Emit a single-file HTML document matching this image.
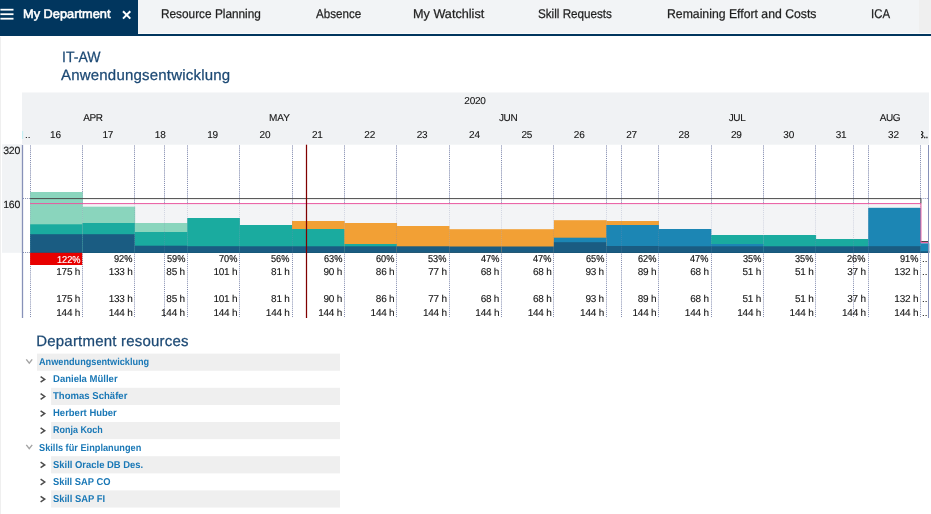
<!DOCTYPE html>
<html><head><meta charset="utf-8"><title>My Department</title>
<style>
html,body{margin:0;padding:0;background:#fff;}
body{width:931px;height:514px;position:relative;overflow:hidden;font-family:"Liberation Sans",sans-serif;}
.t{position:absolute;white-space:nowrap;transform-origin:0 0;text-rendering:geometricPrecision;-webkit-text-stroke:0.25px;}
.r{position:absolute;}
svg.g{position:absolute;left:0;top:0;}
</style></head><body>
<div class="r" style="left:0.00px;top:0.00px;width:931.00px;height:34.00px;background:#f2f4f6;"></div>
<div class="r" style="left:919.00px;top:0.00px;width:12.00px;height:34.00px;background:#efefef;"></div>
<div class="r" style="left:138.00px;top:33.00px;width:793.00px;height:1.00px;background:#f9fafb;"></div>
<div class="r" style="left:0.00px;top:33.70px;width:931.00px;height:2.20px;background:#01365e;"></div>
<div class="r" style="left:0.00px;top:0.00px;width:138.00px;height:36.00px;background:#01365e;"></div>
<svg class="g" width="931" height="514" viewBox="0 0 931 514">
<line x1="0.40" y1="9.70" x2="13.50" y2="9.70" stroke="#fff" stroke-width="1.8" />
<line x1="0.40" y1="14.20" x2="13.50" y2="14.20" stroke="#fff" stroke-width="1.8" />
<line x1="0.40" y1="18.70" x2="13.50" y2="18.70" stroke="#fff" stroke-width="1.8" />
<path d="M123 11.3 L130.3 18.6 M130.3 11.3 L123 18.6" stroke="#fff" stroke-width="2" fill="none"/>
<rect x="22.00" y="92.50" width="907.00" height="52.20" fill="#f0f2f4" />
<rect x="2.00" y="144.30" width="20.00" height="108.50" fill="#f1f3f5" />
<line x1="30.50" y1="145.50" x2="30.50" y2="318.00" stroke="#808aae" stroke-width="1" stroke-dasharray="1 1.08"/>
<line x1="82.50" y1="145.50" x2="82.50" y2="318.00" stroke="#808aae" stroke-width="1" stroke-dasharray="1 1.08"/>
<line x1="134.50" y1="145.50" x2="134.50" y2="318.00" stroke="#808aae" stroke-width="1" stroke-dasharray="1 1.08"/>
<line x1="187.50" y1="145.50" x2="187.50" y2="318.00" stroke="#808aae" stroke-width="1" stroke-dasharray="1 1.08"/>
<line x1="239.50" y1="145.50" x2="239.50" y2="318.00" stroke="#808aae" stroke-width="1" stroke-dasharray="1 1.08"/>
<line x1="292.50" y1="145.50" x2="292.50" y2="318.00" stroke="#808aae" stroke-width="1" stroke-dasharray="1 1.08"/>
<line x1="344.50" y1="145.50" x2="344.50" y2="318.00" stroke="#808aae" stroke-width="1" stroke-dasharray="1 1.08"/>
<line x1="396.50" y1="145.50" x2="396.50" y2="318.00" stroke="#808aae" stroke-width="1" stroke-dasharray="1 1.08"/>
<line x1="449.50" y1="145.50" x2="449.50" y2="318.00" stroke="#808aae" stroke-width="1" stroke-dasharray="1 1.08"/>
<line x1="501.50" y1="145.50" x2="501.50" y2="318.00" stroke="#808aae" stroke-width="1" stroke-dasharray="1 1.08"/>
<line x1="553.50" y1="145.50" x2="553.50" y2="318.00" stroke="#808aae" stroke-width="1" stroke-dasharray="1 1.08"/>
<line x1="606.50" y1="145.50" x2="606.50" y2="318.00" stroke="#808aae" stroke-width="1" stroke-dasharray="1 1.08"/>
<line x1="658.50" y1="145.50" x2="658.50" y2="318.00" stroke="#808aae" stroke-width="1" stroke-dasharray="1 1.08"/>
<line x1="711.50" y1="145.50" x2="711.50" y2="318.00" stroke="#808aae" stroke-width="1" stroke-dasharray="1 1.08"/>
<line x1="763.50" y1="145.50" x2="763.50" y2="318.00" stroke="#808aae" stroke-width="1" stroke-dasharray="1 1.08"/>
<line x1="815.50" y1="145.50" x2="815.50" y2="318.00" stroke="#808aae" stroke-width="1" stroke-dasharray="1 1.08"/>
<line x1="868.50" y1="145.50" x2="868.50" y2="318.00" stroke="#808aae" stroke-width="1" stroke-dasharray="1 1.08"/>
<line x1="920.50" y1="145.50" x2="920.50" y2="318.00" stroke="#808aae" stroke-width="1" stroke-dasharray="1 1.08"/>
<line x1="164.50" y1="145.50" x2="164.50" y2="318.00" stroke="#808aae" stroke-width="1" stroke-dasharray="1 1.08"/>
<line x1="621.50" y1="145.50" x2="621.50" y2="318.00" stroke="#808aae" stroke-width="1" stroke-dasharray="1 1.08"/>
<line x1="853.50" y1="145.50" x2="853.50" y2="318.00" stroke="#808aae" stroke-width="1" stroke-dasharray="1 1.08"/>
<rect x="30.10" y="204.00" width="890.46" height="49.00" fill="#f3f4f6" />
<rect x="920.56" y="243.00" width="8.44" height="10.00" fill="#f3f4f6" />
<rect x="30.10" y="192.00" width="52.68" height="60.80" fill="#8ad5bd" />
<rect x="30.10" y="224.30" width="52.68" height="28.50" fill="#1aab9f" />
<rect x="30.10" y="234.20" width="52.68" height="18.60" fill="#1a5c82" />
<rect x="82.48" y="206.70" width="52.68" height="46.10" fill="#8ad5bd" />
<rect x="82.48" y="223.00" width="52.68" height="29.80" fill="#1aab9f" />
<rect x="82.48" y="234.20" width="52.68" height="18.60" fill="#1a5c82" />
<rect x="134.86" y="223.00" width="52.68" height="29.80" fill="#8ad5bd" />
<rect x="134.86" y="232.00" width="52.68" height="20.80" fill="#1aab9f" />
<rect x="134.86" y="245.70" width="52.68" height="7.10" fill="#1a5c82" />
<rect x="187.24" y="218.00" width="52.68" height="34.80" fill="#1aab9f" />
<rect x="187.24" y="246.20" width="52.68" height="6.60" fill="#1a5c82" />
<rect x="239.62" y="225.00" width="52.68" height="27.80" fill="#1aab9f" />
<rect x="239.62" y="246.30" width="52.68" height="6.50" fill="#1a5c82" />
<rect x="292.00" y="221.00" width="52.68" height="31.80" fill="#f2a035" />
<rect x="292.00" y="229.00" width="52.68" height="23.80" fill="#1aab9f" />
<rect x="292.00" y="246.30" width="52.68" height="6.50" fill="#1a5c82" />
<rect x="344.38" y="223.00" width="52.68" height="29.80" fill="#f2a035" />
<rect x="344.38" y="244.00" width="52.68" height="8.80" fill="#1aab9f" />
<rect x="344.38" y="246.30" width="52.68" height="6.50" fill="#1a5c82" />
<rect x="396.76" y="226.00" width="52.68" height="26.80" fill="#f2a035" />
<rect x="396.76" y="246.30" width="52.68" height="6.50" fill="#1a5c82" />
<rect x="449.14" y="229.20" width="52.68" height="23.60" fill="#f2a035" />
<rect x="449.14" y="246.50" width="52.68" height="6.30" fill="#1a5c82" />
<rect x="501.52" y="229.20" width="52.68" height="23.60" fill="#f2a035" />
<rect x="501.52" y="246.50" width="52.68" height="6.30" fill="#1a5c82" />
<rect x="553.90" y="220.20" width="52.68" height="32.60" fill="#f2a035" />
<rect x="553.90" y="237.70" width="52.68" height="15.10" fill="#1c86b4" />
<rect x="553.90" y="242.20" width="52.68" height="10.60" fill="#1a5c82" />
<rect x="606.28" y="221.00" width="52.68" height="31.80" fill="#f2a035" />
<rect x="606.28" y="225.00" width="52.68" height="27.80" fill="#1c86b4" />
<rect x="606.28" y="246.00" width="52.68" height="6.80" fill="#1a5c82" />
<rect x="658.66" y="229.00" width="52.68" height="23.80" fill="#1c86b4" />
<rect x="658.66" y="246.30" width="52.68" height="6.50" fill="#1a5c82" />
<rect x="711.04" y="235.00" width="52.68" height="17.80" fill="#1aab9f" />
<rect x="711.04" y="244.00" width="52.68" height="8.80" fill="#1c86b4" />
<rect x="711.04" y="246.30" width="52.68" height="6.50" fill="#1a5c82" />
<rect x="763.42" y="235.00" width="52.68" height="17.80" fill="#1aab9f" />
<rect x="763.42" y="246.30" width="52.68" height="6.50" fill="#1a5c82" />
<rect x="815.80" y="239.00" width="52.68" height="13.80" fill="#1aab9f" />
<rect x="815.80" y="246.30" width="52.68" height="6.50" fill="#1a5c82" />
<rect x="868.18" y="207.80" width="52.68" height="45.00" fill="#1c86b4" />
<rect x="868.18" y="246.20" width="52.68" height="6.60" fill="#1a5c82" />
<rect x="920.56" y="243.30" width="8.74" height="9.50" fill="#1c86b4" />
<rect x="920.56" y="251.20" width="8.74" height="1.60" fill="#1a5c82" />
<rect x="30.10" y="252.20" width="898.90" height="0.60" fill="#124b70" />
<rect x="30.10" y="252.80" width="52.08" height="12.20" fill="#e80000" />
<line x1="30.50" y1="145.50" x2="30.50" y2="252.80" stroke="#808aae" stroke-width="1" stroke-dasharray="1 1.08" opacity="0.3"/>
<line x1="82.50" y1="145.50" x2="82.50" y2="252.80" stroke="#808aae" stroke-width="1" stroke-dasharray="1 1.08" opacity="0.3"/>
<line x1="134.50" y1="145.50" x2="134.50" y2="252.80" stroke="#808aae" stroke-width="1" stroke-dasharray="1 1.08" opacity="0.3"/>
<line x1="187.50" y1="145.50" x2="187.50" y2="252.80" stroke="#808aae" stroke-width="1" stroke-dasharray="1 1.08" opacity="0.3"/>
<line x1="239.50" y1="145.50" x2="239.50" y2="252.80" stroke="#808aae" stroke-width="1" stroke-dasharray="1 1.08" opacity="0.3"/>
<line x1="292.50" y1="145.50" x2="292.50" y2="252.80" stroke="#808aae" stroke-width="1" stroke-dasharray="1 1.08" opacity="0.3"/>
<line x1="344.50" y1="145.50" x2="344.50" y2="252.80" stroke="#808aae" stroke-width="1" stroke-dasharray="1 1.08" opacity="0.3"/>
<line x1="396.50" y1="145.50" x2="396.50" y2="252.80" stroke="#808aae" stroke-width="1" stroke-dasharray="1 1.08" opacity="0.3"/>
<line x1="449.50" y1="145.50" x2="449.50" y2="252.80" stroke="#808aae" stroke-width="1" stroke-dasharray="1 1.08" opacity="0.3"/>
<line x1="501.50" y1="145.50" x2="501.50" y2="252.80" stroke="#808aae" stroke-width="1" stroke-dasharray="1 1.08" opacity="0.3"/>
<line x1="553.50" y1="145.50" x2="553.50" y2="252.80" stroke="#808aae" stroke-width="1" stroke-dasharray="1 1.08" opacity="0.3"/>
<line x1="606.50" y1="145.50" x2="606.50" y2="252.80" stroke="#808aae" stroke-width="1" stroke-dasharray="1 1.08" opacity="0.3"/>
<line x1="658.50" y1="145.50" x2="658.50" y2="252.80" stroke="#808aae" stroke-width="1" stroke-dasharray="1 1.08" opacity="0.3"/>
<line x1="711.50" y1="145.50" x2="711.50" y2="252.80" stroke="#808aae" stroke-width="1" stroke-dasharray="1 1.08" opacity="0.3"/>
<line x1="763.50" y1="145.50" x2="763.50" y2="252.80" stroke="#808aae" stroke-width="1" stroke-dasharray="1 1.08" opacity="0.3"/>
<line x1="815.50" y1="145.50" x2="815.50" y2="252.80" stroke="#808aae" stroke-width="1" stroke-dasharray="1 1.08" opacity="0.3"/>
<line x1="868.50" y1="145.50" x2="868.50" y2="252.80" stroke="#808aae" stroke-width="1" stroke-dasharray="1 1.08" opacity="0.3"/>
<line x1="920.50" y1="145.50" x2="920.50" y2="252.80" stroke="#808aae" stroke-width="1" stroke-dasharray="1 1.08" opacity="0.3"/>
<line x1="164.50" y1="145.50" x2="164.50" y2="252.80" stroke="#808aae" stroke-width="1" stroke-dasharray="1 1.08" opacity="0.3"/>
<line x1="621.50" y1="145.50" x2="621.50" y2="252.80" stroke="#808aae" stroke-width="1" stroke-dasharray="1 1.08" opacity="0.3"/>
<line x1="853.50" y1="145.50" x2="853.50" y2="252.80" stroke="#808aae" stroke-width="1" stroke-dasharray="1 1.08" opacity="0.3"/>
<line x1="23.00" y1="198.50" x2="30.10" y2="198.50" stroke="#808aae" stroke-width="1" stroke-dasharray="1 1.08"/>
<line x1="23.00" y1="252.50" x2="30.10" y2="252.50" stroke="#808aae" stroke-width="1" stroke-dasharray="1 1.08"/>
<line x1="920.56" y1="198.50" x2="929.00" y2="198.50" stroke="#808aae" stroke-width="1" stroke-dasharray="1 1.08"/>
<path d="M30.1 198.6 H920.96 V203.6 M920.46 241.5 H929" stroke="#4a4a4a" stroke-width="1" fill="none"/>
<path d="M30.1 203.6 H920.96 V242.6 H929" stroke="#e9579f" stroke-width="1" fill="none"/>
<line x1="22.50" y1="145.00" x2="22.50" y2="318.00" stroke="#8791b8" stroke-width="1.3" />
<line x1="928.50" y1="145.00" x2="928.50" y2="318.00" stroke="#8791b8" stroke-width="1" />
<line x1="306.50" y1="144.70" x2="306.50" y2="318.00" stroke="#800000" stroke-width="1.25" />
<rect x="22.00" y="131.00" width="1.20" height="8.00" fill="#c5eef2" />
<rect x="37.00" y="353.60" width="303.00" height="17.15" fill="#efefef" />
<path d="M26.3 359.40 L29.25 363.20 L32.2 359.40" stroke="#a4a4a4" stroke-width="1.4" fill="none"/>
<path d="M40.6 376.60 L44.7 379.40 L40.6 382.20" stroke="#4c4c4c" stroke-width="1.5" fill="none"/>
<rect x="51.10" y="387.80" width="288.90" height="17.15" fill="#efefef" />
<path d="M40.6 393.70 L44.7 396.50 L40.6 399.30" stroke="#4c4c4c" stroke-width="1.5" fill="none"/>
<path d="M40.6 410.80 L44.7 413.60 L40.6 416.40" stroke="#4c4c4c" stroke-width="1.5" fill="none"/>
<rect x="51.10" y="422.00" width="288.90" height="17.15" fill="#efefef" />
<path d="M40.6 427.90 L44.7 430.70 L40.6 433.50" stroke="#4c4c4c" stroke-width="1.5" fill="none"/>
<path d="M26.3 444.90 L29.25 448.70 L32.2 444.90" stroke="#a4a4a4" stroke-width="1.4" fill="none"/>
<rect x="51.10" y="456.20" width="288.90" height="17.15" fill="#efefef" />
<path d="M40.6 462.10 L44.7 464.90 L40.6 467.70" stroke="#4c4c4c" stroke-width="1.5" fill="none"/>
<path d="M40.6 479.20 L44.7 482.00 L40.6 484.80" stroke="#4c4c4c" stroke-width="1.5" fill="none"/>
<rect x="51.10" y="490.40" width="288.90" height="17.15" fill="#efefef" />
<path d="M40.6 496.30 L44.7 499.10 L40.6 501.90" stroke="#4c4c4c" stroke-width="1.5" fill="none"/>
<rect x="0.00" y="37.00" width="1.00" height="477.00" fill="#efefef" />
</svg>
<div class="t" style="left:22.50px;top:7px;font-size:12.5px;line-height:15px;color:#fff;-webkit-text-stroke:0.55px;transform:scaleX(1.0240);">My Department</div>
<div class="t" style="left:160.50px;top:7px;font-size:12.7px;line-height:15px;color:#1f1f1f;transform:scaleX(0.9318);">Resource Planning</div>
<div class="t" style="left:316.20px;top:7px;font-size:12.7px;line-height:15px;color:#1f1f1f;transform:scaleX(0.9145);">Absence</div>
<div class="t" style="left:412.80px;top:7px;font-size:12.7px;line-height:15px;color:#1f1f1f;transform:scaleX(0.9972);">My Watchlist</div>
<div class="t" style="left:537.60px;top:7px;font-size:12.7px;line-height:15px;color:#1f1f1f;transform:scaleX(0.9196);">Skill Requests</div>
<div class="t" style="left:666.60px;top:7px;font-size:12.7px;line-height:15px;color:#1f1f1f;transform:scaleX(0.9647);">Remaining Effort and Costs</div>
<div class="t" style="left:871.20px;top:7px;font-size:12.7px;line-height:15px;color:#1f1f1f;transform:scaleX(0.8974);">ICA</div>
<div class="t" style="left:61.50px;top:49px;font-size:15px;line-height:18px;color:#1c4974;transform:scaleX(0.9366);">IT-AW</div>
<div class="t" style="left:61.00px;top:67px;font-size:15px;line-height:18px;color:#1c4974;letter-spacing:0.199px;">Anwendungsentwicklung</div>
<div class="t" style="left:464.32px;top:96px;font-size:10px;line-height:12px;color:#141414;-webkit-text-stroke:0.1px;letter-spacing:-0.222px;">2020</div>
<div class="t" style="left:83.14px;top:113px;font-size:10px;line-height:12px;color:#141414;-webkit-text-stroke:0.1px;letter-spacing:-0.411px;">APR</div>
<div class="t" style="left:269.04px;top:113px;font-size:10px;line-height:12px;color:#141414;-webkit-text-stroke:0.1px;">MAY</div>
<div class="t" style="left:498.96px;top:113px;font-size:10px;line-height:12px;color:#141414;-webkit-text-stroke:0.1px;letter-spacing:-0.389px;">JUN</div>
<div class="t" style="left:728.64px;top:113px;font-size:10px;line-height:12px;color:#141414;-webkit-text-stroke:0.1px;letter-spacing:-0.356px;">JUL</div>
<div class="t" style="left:879.81px;top:113px;font-size:10px;line-height:12px;color:#141414;-webkit-text-stroke:0.1px;letter-spacing:-0.433px;">AUG</div>
<div class="t" style="left:50.01px;top:130px;font-size:10px;line-height:12px;color:#141414;-webkit-text-stroke:0.1px;letter-spacing:-0.167px;">16</div>
<div class="t" style="left:102.39px;top:130px;font-size:10px;line-height:12px;color:#141414;-webkit-text-stroke:0.1px;letter-spacing:-0.167px;">17</div>
<div class="t" style="left:154.77px;top:130px;font-size:10px;line-height:12px;color:#141414;-webkit-text-stroke:0.1px;letter-spacing:-0.167px;">18</div>
<div class="t" style="left:207.15px;top:130px;font-size:10px;line-height:12px;color:#141414;-webkit-text-stroke:0.1px;letter-spacing:-0.167px;">19</div>
<div class="t" style="left:259.53px;top:130px;font-size:10px;line-height:12px;color:#141414;-webkit-text-stroke:0.1px;letter-spacing:-0.167px;">20</div>
<div class="t" style="left:311.91px;top:130px;font-size:10px;line-height:12px;color:#141414;-webkit-text-stroke:0.1px;letter-spacing:-0.167px;">21</div>
<div class="t" style="left:364.29px;top:130px;font-size:10px;line-height:12px;color:#141414;-webkit-text-stroke:0.1px;letter-spacing:-0.167px;">22</div>
<div class="t" style="left:416.67px;top:130px;font-size:10px;line-height:12px;color:#141414;-webkit-text-stroke:0.1px;letter-spacing:-0.167px;">23</div>
<div class="t" style="left:469.05px;top:130px;font-size:10px;line-height:12px;color:#141414;-webkit-text-stroke:0.1px;letter-spacing:-0.167px;">24</div>
<div class="t" style="left:521.43px;top:130px;font-size:10px;line-height:12px;color:#141414;-webkit-text-stroke:0.1px;letter-spacing:-0.167px;">25</div>
<div class="t" style="left:573.81px;top:130px;font-size:10px;line-height:12px;color:#141414;-webkit-text-stroke:0.1px;letter-spacing:-0.167px;">26</div>
<div class="t" style="left:626.19px;top:130px;font-size:10px;line-height:12px;color:#141414;-webkit-text-stroke:0.1px;letter-spacing:-0.167px;">27</div>
<div class="t" style="left:678.57px;top:130px;font-size:10px;line-height:12px;color:#141414;-webkit-text-stroke:0.1px;letter-spacing:-0.167px;">28</div>
<div class="t" style="left:730.95px;top:130px;font-size:10px;line-height:12px;color:#141414;-webkit-text-stroke:0.1px;letter-spacing:-0.167px;">29</div>
<div class="t" style="left:783.33px;top:130px;font-size:10px;line-height:12px;color:#141414;-webkit-text-stroke:0.1px;letter-spacing:-0.167px;">30</div>
<div class="t" style="left:835.71px;top:130px;font-size:10px;line-height:12px;color:#141414;-webkit-text-stroke:0.1px;letter-spacing:-0.167px;">31</div>
<div class="t" style="left:888.09px;top:130px;font-size:10px;line-height:12px;color:#141414;-webkit-text-stroke:0.1px;letter-spacing:-0.167px;">32</div>
<div class="t" style="left:25.00px;top:130px;font-size:10px;line-height:12px;color:#141414;-webkit-text-stroke:0.1px;">..</div>
<div class="t" style="left:920.86px;top:128px;width:9px;height:14px;overflow:hidden"><div class="t" style="left:-2.6px;top:2px;font-size:10px;line-height:12px;letter-spacing:-0.5px;color:#141414">3..</div></div>
<div class="t" style="left:3.20px;top:145px;font-size:10.5px;line-height:13px;color:#141414;-webkit-text-stroke:0.1px;letter-spacing:-0.173px;">320</div>
<div class="t" style="left:3.20px;top:199px;font-size:10.5px;line-height:13px;color:#141414;-webkit-text-stroke:0.1px;letter-spacing:-0.173px;">160</div>
<div class="t" style="left:56.65px;top:255px;font-size:10px;line-height:12px;color:#fff;-webkit-text-stroke:0.18px;transform:scaleX(0.9200);">122%</div>
<div class="t" style="left:56.28px;top:267px;font-size:10px;line-height:12px;color:#141414;-webkit-text-stroke:0.1px;letter-spacing:-0.225px;">175 h</div>
<div class="t" style="left:56.28px;top:294px;font-size:10px;line-height:12px;color:#141414;-webkit-text-stroke:0.1px;letter-spacing:-0.225px;">175 h</div>
<div class="t" style="left:56.28px;top:308px;font-size:10px;line-height:12px;color:#141414;-webkit-text-stroke:0.1px;letter-spacing:-0.225px;">144 h</div>
<div class="t" style="left:114.15px;top:254px;font-size:10px;line-height:12px;color:#141414;-webkit-text-stroke:0.18px;transform:scaleX(0.9200);">92%</div>
<div class="t" style="left:108.66px;top:267px;font-size:10px;line-height:12px;color:#141414;-webkit-text-stroke:0.1px;letter-spacing:-0.225px;">133 h</div>
<div class="t" style="left:108.66px;top:294px;font-size:10px;line-height:12px;color:#141414;-webkit-text-stroke:0.1px;letter-spacing:-0.225px;">133 h</div>
<div class="t" style="left:108.66px;top:308px;font-size:10px;line-height:12px;color:#141414;-webkit-text-stroke:0.1px;letter-spacing:-0.225px;">144 h</div>
<div class="t" style="left:166.53px;top:254px;font-size:10px;line-height:12px;color:#141414;-webkit-text-stroke:0.18px;transform:scaleX(0.9200);">59%</div>
<div class="t" style="left:166.35px;top:267px;font-size:10px;line-height:12px;color:#141414;-webkit-text-stroke:0.1px;letter-spacing:-0.219px;">85 h</div>
<div class="t" style="left:166.35px;top:294px;font-size:10px;line-height:12px;color:#141414;-webkit-text-stroke:0.1px;letter-spacing:-0.219px;">85 h</div>
<div class="t" style="left:161.04px;top:308px;font-size:10px;line-height:12px;color:#141414;-webkit-text-stroke:0.1px;letter-spacing:-0.225px;">144 h</div>
<div class="t" style="left:218.91px;top:254px;font-size:10px;line-height:12px;color:#141414;-webkit-text-stroke:0.18px;transform:scaleX(0.9200);">70%</div>
<div class="t" style="left:213.42px;top:267px;font-size:10px;line-height:12px;color:#141414;-webkit-text-stroke:0.1px;letter-spacing:-0.225px;">101 h</div>
<div class="t" style="left:213.42px;top:294px;font-size:10px;line-height:12px;color:#141414;-webkit-text-stroke:0.1px;letter-spacing:-0.225px;">101 h</div>
<div class="t" style="left:213.42px;top:308px;font-size:10px;line-height:12px;color:#141414;-webkit-text-stroke:0.1px;letter-spacing:-0.225px;">144 h</div>
<div class="t" style="left:271.29px;top:254px;font-size:10px;line-height:12px;color:#141414;-webkit-text-stroke:0.18px;transform:scaleX(0.9200);">56%</div>
<div class="t" style="left:271.11px;top:267px;font-size:10px;line-height:12px;color:#141414;-webkit-text-stroke:0.1px;letter-spacing:-0.219px;">81 h</div>
<div class="t" style="left:271.11px;top:294px;font-size:10px;line-height:12px;color:#141414;-webkit-text-stroke:0.1px;letter-spacing:-0.219px;">81 h</div>
<div class="t" style="left:265.80px;top:308px;font-size:10px;line-height:12px;color:#141414;-webkit-text-stroke:0.1px;letter-spacing:-0.225px;">144 h</div>
<div class="t" style="left:323.67px;top:254px;font-size:10px;line-height:12px;color:#141414;-webkit-text-stroke:0.18px;transform:scaleX(0.9200);">63%</div>
<div class="t" style="left:323.49px;top:267px;font-size:10px;line-height:12px;color:#141414;-webkit-text-stroke:0.1px;letter-spacing:-0.219px;">90 h</div>
<div class="t" style="left:323.49px;top:294px;font-size:10px;line-height:12px;color:#141414;-webkit-text-stroke:0.1px;letter-spacing:-0.219px;">90 h</div>
<div class="t" style="left:318.18px;top:308px;font-size:10px;line-height:12px;color:#141414;-webkit-text-stroke:0.1px;letter-spacing:-0.225px;">144 h</div>
<div class="t" style="left:376.05px;top:254px;font-size:10px;line-height:12px;color:#141414;-webkit-text-stroke:0.18px;transform:scaleX(0.9200);">60%</div>
<div class="t" style="left:375.87px;top:267px;font-size:10px;line-height:12px;color:#141414;-webkit-text-stroke:0.1px;letter-spacing:-0.219px;">86 h</div>
<div class="t" style="left:375.87px;top:294px;font-size:10px;line-height:12px;color:#141414;-webkit-text-stroke:0.1px;letter-spacing:-0.219px;">86 h</div>
<div class="t" style="left:370.56px;top:308px;font-size:10px;line-height:12px;color:#141414;-webkit-text-stroke:0.1px;letter-spacing:-0.225px;">144 h</div>
<div class="t" style="left:428.43px;top:254px;font-size:10px;line-height:12px;color:#141414;-webkit-text-stroke:0.18px;transform:scaleX(0.9200);">53%</div>
<div class="t" style="left:428.25px;top:267px;font-size:10px;line-height:12px;color:#141414;-webkit-text-stroke:0.1px;letter-spacing:-0.219px;">77 h</div>
<div class="t" style="left:428.25px;top:294px;font-size:10px;line-height:12px;color:#141414;-webkit-text-stroke:0.1px;letter-spacing:-0.219px;">77 h</div>
<div class="t" style="left:422.94px;top:308px;font-size:10px;line-height:12px;color:#141414;-webkit-text-stroke:0.1px;letter-spacing:-0.225px;">144 h</div>
<div class="t" style="left:480.81px;top:254px;font-size:10px;line-height:12px;color:#141414;-webkit-text-stroke:0.18px;transform:scaleX(0.9200);">47%</div>
<div class="t" style="left:480.63px;top:267px;font-size:10px;line-height:12px;color:#141414;-webkit-text-stroke:0.1px;letter-spacing:-0.219px;">68 h</div>
<div class="t" style="left:480.63px;top:294px;font-size:10px;line-height:12px;color:#141414;-webkit-text-stroke:0.1px;letter-spacing:-0.219px;">68 h</div>
<div class="t" style="left:475.32px;top:308px;font-size:10px;line-height:12px;color:#141414;-webkit-text-stroke:0.1px;letter-spacing:-0.225px;">144 h</div>
<div class="t" style="left:533.19px;top:254px;font-size:10px;line-height:12px;color:#141414;-webkit-text-stroke:0.18px;transform:scaleX(0.9200);">47%</div>
<div class="t" style="left:533.01px;top:267px;font-size:10px;line-height:12px;color:#141414;-webkit-text-stroke:0.1px;letter-spacing:-0.219px;">68 h</div>
<div class="t" style="left:533.01px;top:294px;font-size:10px;line-height:12px;color:#141414;-webkit-text-stroke:0.1px;letter-spacing:-0.219px;">68 h</div>
<div class="t" style="left:527.70px;top:308px;font-size:10px;line-height:12px;color:#141414;-webkit-text-stroke:0.1px;letter-spacing:-0.225px;">144 h</div>
<div class="t" style="left:585.57px;top:254px;font-size:10px;line-height:12px;color:#141414;-webkit-text-stroke:0.18px;transform:scaleX(0.9200);">65%</div>
<div class="t" style="left:585.39px;top:267px;font-size:10px;line-height:12px;color:#141414;-webkit-text-stroke:0.1px;letter-spacing:-0.219px;">93 h</div>
<div class="t" style="left:585.39px;top:294px;font-size:10px;line-height:12px;color:#141414;-webkit-text-stroke:0.1px;letter-spacing:-0.219px;">93 h</div>
<div class="t" style="left:580.08px;top:308px;font-size:10px;line-height:12px;color:#141414;-webkit-text-stroke:0.1px;letter-spacing:-0.225px;">144 h</div>
<div class="t" style="left:637.95px;top:254px;font-size:10px;line-height:12px;color:#141414;-webkit-text-stroke:0.18px;transform:scaleX(0.9200);">62%</div>
<div class="t" style="left:637.77px;top:267px;font-size:10px;line-height:12px;color:#141414;-webkit-text-stroke:0.1px;letter-spacing:-0.219px;">89 h</div>
<div class="t" style="left:637.77px;top:294px;font-size:10px;line-height:12px;color:#141414;-webkit-text-stroke:0.1px;letter-spacing:-0.219px;">89 h</div>
<div class="t" style="left:632.46px;top:308px;font-size:10px;line-height:12px;color:#141414;-webkit-text-stroke:0.1px;letter-spacing:-0.225px;">144 h</div>
<div class="t" style="left:690.33px;top:254px;font-size:10px;line-height:12px;color:#141414;-webkit-text-stroke:0.18px;transform:scaleX(0.9200);">47%</div>
<div class="t" style="left:690.15px;top:267px;font-size:10px;line-height:12px;color:#141414;-webkit-text-stroke:0.1px;letter-spacing:-0.219px;">68 h</div>
<div class="t" style="left:690.15px;top:294px;font-size:10px;line-height:12px;color:#141414;-webkit-text-stroke:0.1px;letter-spacing:-0.219px;">68 h</div>
<div class="t" style="left:684.84px;top:308px;font-size:10px;line-height:12px;color:#141414;-webkit-text-stroke:0.1px;letter-spacing:-0.225px;">144 h</div>
<div class="t" style="left:742.71px;top:254px;font-size:10px;line-height:12px;color:#141414;-webkit-text-stroke:0.18px;transform:scaleX(0.9200);">35%</div>
<div class="t" style="left:742.53px;top:267px;font-size:10px;line-height:12px;color:#141414;-webkit-text-stroke:0.1px;letter-spacing:-0.219px;">51 h</div>
<div class="t" style="left:742.53px;top:294px;font-size:10px;line-height:12px;color:#141414;-webkit-text-stroke:0.1px;letter-spacing:-0.219px;">51 h</div>
<div class="t" style="left:737.22px;top:308px;font-size:10px;line-height:12px;color:#141414;-webkit-text-stroke:0.1px;letter-spacing:-0.225px;">144 h</div>
<div class="t" style="left:795.09px;top:254px;font-size:10px;line-height:12px;color:#141414;-webkit-text-stroke:0.18px;transform:scaleX(0.9200);">35%</div>
<div class="t" style="left:794.91px;top:267px;font-size:10px;line-height:12px;color:#141414;-webkit-text-stroke:0.1px;letter-spacing:-0.219px;">51 h</div>
<div class="t" style="left:794.91px;top:294px;font-size:10px;line-height:12px;color:#141414;-webkit-text-stroke:0.1px;letter-spacing:-0.219px;">51 h</div>
<div class="t" style="left:789.60px;top:308px;font-size:10px;line-height:12px;color:#141414;-webkit-text-stroke:0.1px;letter-spacing:-0.225px;">144 h</div>
<div class="t" style="left:847.47px;top:254px;font-size:10px;line-height:12px;color:#141414;-webkit-text-stroke:0.18px;transform:scaleX(0.9200);">26%</div>
<div class="t" style="left:847.29px;top:267px;font-size:10px;line-height:12px;color:#141414;-webkit-text-stroke:0.1px;letter-spacing:-0.219px;">37 h</div>
<div class="t" style="left:847.29px;top:294px;font-size:10px;line-height:12px;color:#141414;-webkit-text-stroke:0.1px;letter-spacing:-0.219px;">37 h</div>
<div class="t" style="left:841.98px;top:308px;font-size:10px;line-height:12px;color:#141414;-webkit-text-stroke:0.1px;letter-spacing:-0.225px;">144 h</div>
<div class="t" style="left:899.85px;top:254px;font-size:10px;line-height:12px;color:#141414;-webkit-text-stroke:0.18px;transform:scaleX(0.9200);">91%</div>
<div class="t" style="left:894.36px;top:267px;font-size:10px;line-height:12px;color:#141414;-webkit-text-stroke:0.1px;letter-spacing:-0.225px;">132 h</div>
<div class="t" style="left:894.36px;top:294px;font-size:10px;line-height:12px;color:#141414;-webkit-text-stroke:0.1px;letter-spacing:-0.225px;">132 h</div>
<div class="t" style="left:894.36px;top:308px;font-size:10px;line-height:12px;color:#141414;-webkit-text-stroke:0.1px;letter-spacing:-0.225px;">144 h</div>
<div class="t" style="left:922.00px;top:254px;font-size:10px;line-height:12px;color:#141414;-webkit-text-stroke:0.1px;">..</div>
<div class="t" style="left:922.00px;top:267px;font-size:10px;line-height:12px;color:#141414;-webkit-text-stroke:0.1px;">..</div>
<div class="t" style="left:922.00px;top:294px;font-size:10px;line-height:12px;color:#141414;-webkit-text-stroke:0.1px;">..</div>
<div class="t" style="left:922.00px;top:308px;font-size:10px;line-height:12px;color:#141414;-webkit-text-stroke:0.1px;">..</div>
<div class="t" style="left:36.20px;top:333px;font-size:15px;line-height:18px;color:#1c4974;letter-spacing:0.210px;">Department resources</div>
<div class="t" style="left:38.60px;top:357px;font-size:10px;line-height:12px;color:#1a78b6;font-weight:bold;-webkit-text-stroke:0;transform:scaleX(0.9141);">Anwendungsentwicklung</div>
<div class="t" style="left:53.20px;top:374px;font-size:10px;line-height:12px;color:#1a78b6;font-weight:bold;-webkit-text-stroke:0;transform:scaleX(0.9528);">Daniela Müller</div>
<div class="t" style="left:53.20px;top:391px;font-size:10px;line-height:12px;color:#1a78b6;font-weight:bold;-webkit-text-stroke:0;transform:scaleX(0.9562);">Thomas Schäfer</div>
<div class="t" style="left:53.20px;top:408px;font-size:10px;line-height:12px;color:#1a78b6;font-weight:bold;-webkit-text-stroke:0;transform:scaleX(0.9489);">Herbert Huber</div>
<div class="t" style="left:53.20px;top:425px;font-size:10px;line-height:12px;color:#1a78b6;font-weight:bold;-webkit-text-stroke:0;transform:scaleX(0.8964);">Ronja Koch</div>
<div class="t" style="left:38.60px;top:443px;font-size:10px;line-height:12px;color:#1a78b6;font-weight:bold;-webkit-text-stroke:0;transform:scaleX(0.9206);">Skills für Einplanungen</div>
<div class="t" style="left:53.20px;top:460px;font-size:10px;line-height:12px;color:#1a78b6;font-weight:bold;-webkit-text-stroke:0;transform:scaleX(0.9435);">Skill Oracle DB Des.</div>
<div class="t" style="left:53.20px;top:477px;font-size:10px;line-height:12px;color:#1a78b6;font-weight:bold;-webkit-text-stroke:0;transform:scaleX(0.9333);">Skill SAP CO</div>
<div class="t" style="left:53.20px;top:494px;font-size:10px;line-height:12px;color:#1a78b6;font-weight:bold;-webkit-text-stroke:0;transform:scaleX(0.9406);">Skill SAP FI</div>
</body></html>
